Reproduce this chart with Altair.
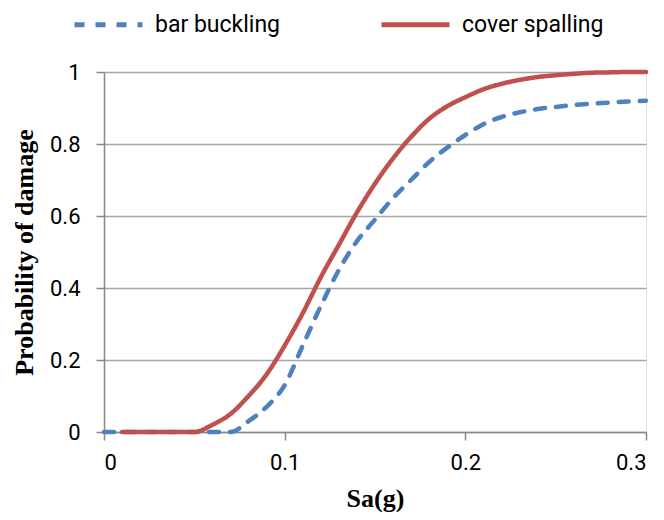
import altair as alt
import pandas as pd

# Data
sa_blue = [0.00, 0.01, 0.02, 0.03, 0.04, 0.05, 0.06, 0.07, 0.08, 0.09, 0.10,
           0.11, 0.12, 0.13, 0.14, 0.15, 0.16, 0.17, 0.18, 0.19, 0.20,
           0.21, 0.22, 0.23, 0.24, 0.25, 0.26, 0.27, 0.28, 0.29, 0.30]
p_blue = [0.0, 0.0, 0.0, 0.0, 0.0, 0.0, 0.0, 0.0, 0.03, 0.07, 0.13,
          0.24, 0.35, 0.45, 0.53, 0.59, 0.65, 0.70, 0.75, 0.79, 0.825,
          0.855, 0.875, 0.888, 0.897, 0.903, 0.908, 0.912, 0.915, 0.918, 0.92]

sa_red = [0.01, 0.02, 0.03, 0.04, 0.05, 0.06, 0.07, 0.08, 0.09, 0.10,
          0.11, 0.12, 0.13, 0.14, 0.15, 0.16, 0.17, 0.18, 0.19, 0.20,
          0.21, 0.22, 0.23, 0.24, 0.25, 0.26, 0.27, 0.28, 0.29, 0.30]
p_red = [0.0, 0.0, 0.0, 0.0, 0.0, 0.02, 0.05, 0.10, 0.16, 0.24,
         0.33, 0.43, 0.52, 0.61, 0.69, 0.76, 0.82, 0.87, 0.905, 0.93,
         0.952, 0.967, 0.978, 0.986, 0.991, 0.995, 0.998, 0.999, 1.0, 1.0]

series = ["bar buckling", "cover spalling"]
colors = ["#4F81BD", "#C0504D"]

df = pd.concat([
    pd.DataFrame({"sa": sa_blue, "p": p_blue, "s": series[0]}),
    pd.DataFrame({"sa": sa_red, "p": p_red, "s": series[1]}),
])

LABEL_FONT = "Roboto, sans-serif"
TITLE_FONT = "Liberation Serif, serif"

x = alt.X("sa:Q", scale=alt.Scale(domain=[0, 0.3], nice=False),
          axis=alt.Axis(values=[0, 0.1, 0.2, 0.3], format="~g", title="Sa(g)",
                        grid=False, domainColor="#888888", domainWidth=1.5,
                        tickColor="#888888", tickWidth=1.5, tickSize=8,
                        labelPadding=12, labelFontSize=22, labelFont=LABEL_FONT,
                        labelColor="#000000", titleFont=TITLE_FONT,
                        titleFontSize=26, titleFontWeight="bold",
                        titlePadding=12, titleColor="#000000"))
y = alt.Y("p:Q", scale=alt.Scale(domain=[0, 1], nice=False),
          axis=alt.Axis(values=[0, 0.2, 0.4, 0.6, 0.8, 1.0], format="~g",
                        title="Probability of damage",
                        grid=True, gridColor="#a6a6a6", gridWidth=1.5,
                        domainColor="#888888", domainWidth=1.5,
                        tickColor="#888888", tickWidth=1.5, tickSize=8,
                        labelPadding=16, labelFontSize=22, labelFont=LABEL_FONT,
                        labelColor="#000000", titleFont=TITLE_FONT,
                        titleFontSize=26, titleFontWeight="bold",
                        titlePadding=12, titleColor="#000000"))

color = alt.Color("s:N", scale=alt.Scale(domain=series, range=colors),
                  legend=alt.Legend(title=None, orient="none", legendX=-32,
                                    legendY=-84, direction="horizontal",
                                    symbolType="stroke", symbolSize=4624,
                                    symbolStrokeWidth=5, labelFontSize=23,
                                    labelFont=LABEL_FONT, labelColor="#000000",
                                    labelOffset=10, columnPadding=90))
dash = alt.StrokeDash("s:N", scale=alt.Scale(domain=series, range=[[10, 11], [1, 0]]),
                      legend=None)

base = alt.Chart(df).mark_line(strokeWidth=4.5, strokeCap="round",
                               interpolate="monotone").encode(
    x=x, y=y, color=color, strokeDash=dash)

blue = base.transform_filter(alt.datum.s == series[0])
red = base.transform_filter(alt.datum.s == series[1])

chart = alt.layer(blue, red).properties(
    width=542, height=360,
    autosize=alt.AutoSizeParams(type="none"),
    padding={"left": 96, "top": 64, "right": 10, "bottom": 80},
).configure_view(stroke=None).configure(background="white")

chart.save("out.html", embed_options={"renderer": "svg", "actions": False})
